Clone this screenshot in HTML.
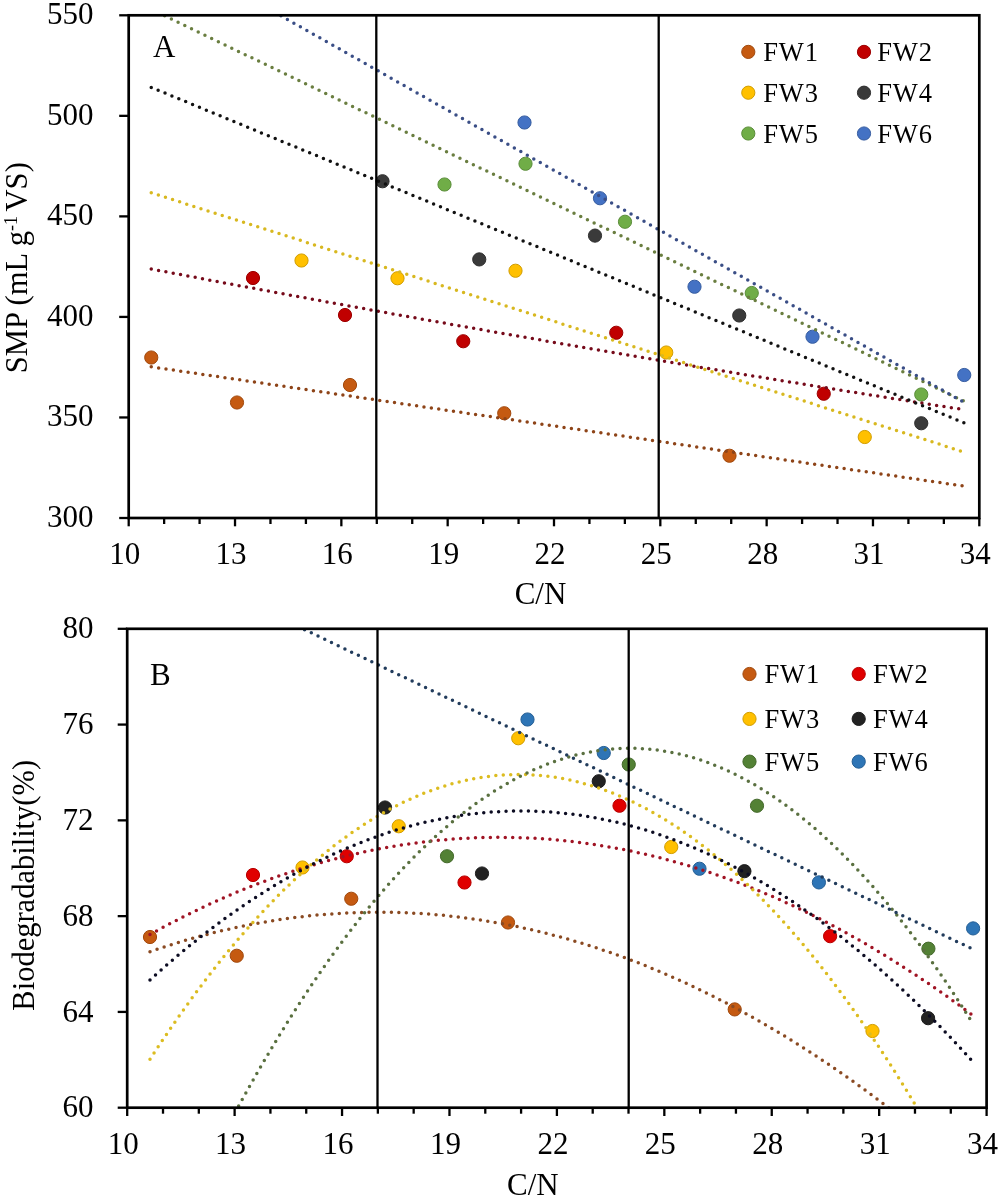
<!DOCTYPE html>
<html><head><meta charset="utf-8"><style>
html,body{margin:0;padding:0;background:#fff;}
svg{display:block;will-change:transform;}
</style></head><body>
<svg width="1000" height="1198" viewBox="0 0 1000 1198">
<rect width="1000" height="1198" fill="#fff"/>
<defs>
<clipPath id="ca"><rect x="128.7" y="15.3" width="850.5999999999999" height="502.7"/></clipPath>
<clipPath id="cb"><rect x="127.2" y="628.8" width="859.4" height="478.9000000000001"/></clipPath>
</defs>
<g clip-path="url(#ca)">
<circle cx="151.25" cy="357.5" r="6.6" fill="#C55A11" stroke="#A1490D" stroke-width="1"/>
<circle cx="237" cy="402.5" r="6.6" fill="#C55A11" stroke="#A1490D" stroke-width="1"/>
<circle cx="350" cy="385" r="6.6" fill="#C55A11" stroke="#A1490D" stroke-width="1"/>
<circle cx="504.25" cy="413.25" r="6.6" fill="#C55A11" stroke="#A1490D" stroke-width="1"/>
<circle cx="729.5" cy="455.75" r="6.6" fill="#C55A11" stroke="#A1490D" stroke-width="1"/>
<circle cx="253" cy="278" r="6.6" fill="#C00000" stroke="#9D0000" stroke-width="1"/>
<circle cx="345" cy="315" r="6.6" fill="#C00000" stroke="#9D0000" stroke-width="1"/>
<circle cx="463.25" cy="341.25" r="6.6" fill="#C00000" stroke="#9D0000" stroke-width="1"/>
<circle cx="616.25" cy="332.75" r="6.6" fill="#C00000" stroke="#9D0000" stroke-width="1"/>
<circle cx="823.75" cy="393.75" r="6.6" fill="#C00000" stroke="#9D0000" stroke-width="1"/>
<circle cx="301.5" cy="260.5" r="6.6" fill="#FFC000" stroke="#D19D00" stroke-width="1"/>
<circle cx="397.5" cy="278.25" r="6.6" fill="#FFC000" stroke="#D19D00" stroke-width="1"/>
<circle cx="515.5" cy="270.75" r="6.6" fill="#FFC000" stroke="#D19D00" stroke-width="1"/>
<circle cx="666.25" cy="352.5" r="6.6" fill="#FFC000" stroke="#D19D00" stroke-width="1"/>
<circle cx="864.75" cy="437" r="6.6" fill="#FFC000" stroke="#D19D00" stroke-width="1"/>
<circle cx="382.5" cy="181.25" r="6.6" fill="#3A3A3A" stroke="#2F2F2F" stroke-width="1"/>
<circle cx="479.25" cy="259.4" r="6.6" fill="#3A3A3A" stroke="#2F2F2F" stroke-width="1"/>
<circle cx="595" cy="235.6" r="6.6" fill="#3A3A3A" stroke="#2F2F2F" stroke-width="1"/>
<circle cx="739.25" cy="315.5" r="6.6" fill="#3A3A3A" stroke="#2F2F2F" stroke-width="1"/>
<circle cx="921.25" cy="423.25" r="6.6" fill="#3A3A3A" stroke="#2F2F2F" stroke-width="1"/>
<circle cx="444.5" cy="184.5" r="6.6" fill="#70AD47" stroke="#5B8D3A" stroke-width="1"/>
<circle cx="525.5" cy="163.75" r="6.6" fill="#70AD47" stroke="#5B8D3A" stroke-width="1"/>
<circle cx="625" cy="221.75" r="6.6" fill="#70AD47" stroke="#5B8D3A" stroke-width="1"/>
<circle cx="751.75" cy="293" r="6.6" fill="#70AD47" stroke="#5B8D3A" stroke-width="1"/>
<circle cx="921.25" cy="394.5" r="6.6" fill="#70AD47" stroke="#5B8D3A" stroke-width="1"/>
<circle cx="524.5" cy="122.5" r="6.6" fill="#4472C4" stroke="#375DA0" stroke-width="1"/>
<circle cx="600" cy="198.25" r="6.6" fill="#4472C4" stroke="#375DA0" stroke-width="1"/>
<circle cx="694.5" cy="286.75" r="6.6" fill="#4472C4" stroke="#375DA0" stroke-width="1"/>
<circle cx="812.5" cy="336.75" r="6.6" fill="#4472C4" stroke="#375DA0" stroke-width="1"/>
<circle cx="964.25" cy="375" r="6.6" fill="#4472C4" stroke="#375DA0" stroke-width="1"/>
<path d="M151.25,366.86 L165.03,368.89 L178.82,370.91 L192.60,372.93 L206.39,374.95 L220.17,376.98 L233.95,379.00 L247.74,381.02 L261.52,383.05 L275.31,385.07 L289.09,387.09 L302.87,389.11 L316.66,391.14 L330.44,393.16 L344.22,395.18 L358.01,397.21 L371.79,399.23 L385.58,401.25 L399.36,403.27 L413.14,405.30 L426.93,407.32 L440.71,409.34 L454.50,411.37 L468.28,413.39 L482.06,415.41 L495.85,417.43 L509.63,419.46 L523.42,421.48 L537.20,423.50 L550.98,425.53 L564.77,427.55 L578.55,429.57 L592.33,431.59 L606.12,433.62 L619.90,435.64 L633.69,437.66 L647.47,439.69 L661.25,441.71 L675.04,443.73 L688.82,445.75 L702.61,447.78 L716.39,449.80 L730.17,451.82 L743.96,453.85 L757.74,455.87 L771.53,457.89 L785.31,459.91 L799.09,461.94 L812.88,463.96 L826.66,465.98 L840.44,468.01 L854.23,470.03 L868.01,472.05 L881.80,474.07 L895.58,476.10 L909.36,478.12 L923.15,480.14 L936.93,482.17 L950.72,484.19 L964.50,486.21" fill="none" stroke="#8E4418" stroke-width="3.5" stroke-linecap="round" stroke-dasharray="0 7.45"/>
<path d="M151.25,269.03 L165.03,271.66 L178.82,274.28 L192.60,276.89 L206.39,279.49 L220.17,282.08 L233.95,284.67 L247.74,287.25 L261.52,289.82 L275.31,292.38 L289.09,294.93 L302.87,297.47 L316.66,300.01 L330.44,302.54 L344.22,305.05 L358.01,307.57 L371.79,310.07 L385.58,312.56 L399.36,315.05 L413.14,317.52 L426.93,319.99 L440.71,322.45 L454.50,324.90 L468.28,327.35 L482.06,329.78 L495.85,332.21 L509.63,334.63 L523.42,337.04 L537.20,339.44 L550.98,341.83 L564.77,344.22 L578.55,346.59 L592.33,348.96 L606.12,351.32 L619.90,353.67 L633.69,356.01 L647.47,358.35 L661.25,360.67 L675.04,362.99 L688.82,365.30 L702.61,367.60 L716.39,369.90 L730.17,372.18 L743.96,374.46 L757.74,376.72 L771.53,378.98 L785.31,381.23 L799.09,383.47 L812.88,385.71 L826.66,387.93 L840.44,390.15 L854.23,392.36 L868.01,394.56 L881.80,396.75 L895.58,398.94 L909.36,401.11 L923.15,403.28 L936.93,405.44 L950.72,407.59 L964.50,409.73" fill="none" stroke="#760A1A" stroke-width="3.5" stroke-linecap="round" stroke-dasharray="0 7.45"/>
<path d="M151.25,192.82 L165.03,197.21 L178.82,201.61 L192.60,206.01 L206.39,210.40 L220.17,214.80 L233.95,219.20 L247.74,223.59 L261.52,227.99 L275.31,232.39 L289.09,236.79 L302.87,241.18 L316.66,245.58 L330.44,249.98 L344.22,254.37 L358.01,258.77 L371.79,263.17 L385.58,267.56 L399.36,271.96 L413.14,276.36 L426.93,280.75 L440.71,285.15 L454.50,289.55 L468.28,293.94 L482.06,298.34 L495.85,302.74 L509.63,307.13 L523.42,311.53 L537.20,315.93 L550.98,320.32 L564.77,324.72 L578.55,329.12 L592.33,333.51 L606.12,337.91 L619.90,342.31 L633.69,346.70 L647.47,351.10 L661.25,355.50 L675.04,359.89 L688.82,364.29 L702.61,368.69 L716.39,373.08 L730.17,377.48 L743.96,381.88 L757.74,386.27 L771.53,390.67 L785.31,395.07 L799.09,399.47 L812.88,403.86 L826.66,408.26 L840.44,412.66 L854.23,417.05 L868.01,421.45 L881.80,425.85 L895.58,430.24 L909.36,434.64 L923.15,439.04 L936.93,443.43 L950.72,447.83 L964.50,452.23" fill="none" stroke="#D8B820" stroke-width="3.5" stroke-linecap="round" stroke-dasharray="0 7.45"/>
<path d="M151.25,87.41 L165.03,93.10 L178.82,98.79 L192.60,104.48 L206.39,110.17 L220.17,115.85 L233.95,121.54 L247.74,127.23 L261.52,132.92 L275.31,138.61 L289.09,144.30 L302.87,149.99 L316.66,155.68 L330.44,161.37 L344.22,167.06 L358.01,172.74 L371.79,178.43 L385.58,184.12 L399.36,189.81 L413.14,195.50 L426.93,201.19 L440.71,206.88 L454.50,212.57 L468.28,218.26 L482.06,223.94 L495.85,229.63 L509.63,235.32 L523.42,241.01 L537.20,246.70 L550.98,252.39 L564.77,258.08 L578.55,263.77 L592.33,269.46 L606.12,275.15 L619.90,280.83 L633.69,286.52 L647.47,292.21 L661.25,297.90 L675.04,303.59 L688.82,309.28 L702.61,314.97 L716.39,320.66 L730.17,326.35 L743.96,332.03 L757.74,337.72 L771.53,343.41 L785.31,349.10 L799.09,354.79 L812.88,360.48 L826.66,366.17 L840.44,371.86 L854.23,377.55 L868.01,383.24 L881.80,388.92 L895.58,394.61 L909.36,400.30 L923.15,405.99 L936.93,411.68 L950.72,417.37 L964.50,423.06" fill="none" stroke="#111111" stroke-width="3.5" stroke-linecap="round" stroke-dasharray="0 7.45"/>
<path d="M151.25,9.33 L165.03,15.97 L178.82,22.62 L192.60,29.27 L206.39,35.91 L220.17,42.56 L233.95,49.21 L247.74,55.85 L261.52,62.50 L275.31,69.15 L289.09,75.79 L302.87,82.44 L316.66,89.09 L330.44,95.73 L344.22,102.38 L358.01,109.03 L371.79,115.67 L385.58,122.32 L399.36,128.97 L413.14,135.61 L426.93,142.26 L440.71,148.91 L454.50,155.55 L468.28,162.20 L482.06,168.85 L495.85,175.49 L509.63,182.14 L523.42,188.79 L537.20,195.43 L550.98,202.08 L564.77,208.73 L578.55,215.38 L592.33,222.02 L606.12,228.67 L619.90,235.32 L633.69,241.96 L647.47,248.61 L661.25,255.26 L675.04,261.90 L688.82,268.55 L702.61,275.20 L716.39,281.84 L730.17,288.49 L743.96,295.14 L757.74,301.78 L771.53,308.43 L785.31,315.08 L799.09,321.72 L812.88,328.37 L826.66,335.02 L840.44,341.66 L854.23,348.31 L868.01,354.96 L881.80,361.60 L895.58,368.25 L909.36,374.90 L923.15,381.54 L936.93,388.19 L950.72,394.84 L964.50,401.48" fill="none" stroke="#6A7E40" stroke-width="3.5" stroke-linecap="round" stroke-dasharray="0 7.45"/>
<path d="M151.25,-57.55 L165.03,-49.74 L178.82,-41.94 L192.60,-34.14 L206.39,-26.34 L220.17,-18.54 L233.95,-10.74 L247.74,-2.94 L261.52,4.86 L275.31,12.66 L289.09,20.46 L302.87,28.26 L316.66,36.06 L330.44,43.86 L344.22,51.66 L358.01,59.46 L371.79,67.26 L385.58,75.06 L399.36,82.86 L413.14,90.66 L426.93,98.46 L440.71,106.26 L454.50,114.06 L468.28,121.86 L482.06,129.66 L495.85,137.46 L509.63,145.26 L523.42,153.06 L537.20,160.86 L550.98,168.66 L564.77,176.46 L578.55,184.26 L592.33,192.06 L606.12,199.86 L619.90,207.66 L633.69,215.46 L647.47,223.26 L661.25,231.06 L675.04,238.86 L688.82,246.66 L702.61,254.46 L716.39,262.27 L730.17,270.07 L743.96,277.87 L757.74,285.67 L771.53,293.47 L785.31,301.27 L799.09,309.07 L812.88,316.87 L826.66,324.67 L840.44,332.47 L854.23,340.27 L868.01,348.07 L881.80,355.87 L895.58,363.67 L909.36,371.47 L923.15,379.27 L936.93,387.07 L950.72,394.87 L964.50,402.67" fill="none" stroke="#3A4E86" stroke-width="3.5" stroke-linecap="round" stroke-dasharray="0 7.45"/>
</g>
<g clip-path="url(#cb)">
<circle cx="150" cy="937" r="6.6" fill="#C55A11" stroke="#A1490D" stroke-width="1"/>
<circle cx="236.75" cy="955.75" r="6.6" fill="#C55A11" stroke="#A1490D" stroke-width="1"/>
<circle cx="351.25" cy="898.75" r="6.6" fill="#C55A11" stroke="#A1490D" stroke-width="1"/>
<circle cx="508" cy="922.5" r="6.6" fill="#C55A11" stroke="#A1490D" stroke-width="1"/>
<circle cx="734.7" cy="1009.4" r="6.6" fill="#C55A11" stroke="#A1490D" stroke-width="1"/>
<circle cx="253" cy="875" r="6.6" fill="#E00000" stroke="#B70000" stroke-width="1"/>
<circle cx="346.75" cy="856.25" r="6.6" fill="#E00000" stroke="#B70000" stroke-width="1"/>
<circle cx="464.5" cy="882.5" r="6.6" fill="#E00000" stroke="#B70000" stroke-width="1"/>
<circle cx="619.5" cy="805.75" r="6.6" fill="#E00000" stroke="#B70000" stroke-width="1"/>
<circle cx="830.1" cy="936.2" r="6.6" fill="#E00000" stroke="#B70000" stroke-width="1"/>
<circle cx="302.5" cy="867.5" r="6.6" fill="#FFC000" stroke="#D19D00" stroke-width="1"/>
<circle cx="398.75" cy="826.25" r="6.6" fill="#FFC000" stroke="#D19D00" stroke-width="1"/>
<circle cx="518.25" cy="738.25" r="6.6" fill="#FFC000" stroke="#D19D00" stroke-width="1"/>
<circle cx="671.25" cy="847" r="6.6" fill="#FFC000" stroke="#D19D00" stroke-width="1"/>
<circle cx="872.5" cy="1031" r="6.6" fill="#FFC000" stroke="#D19D00" stroke-width="1"/>
<circle cx="385" cy="807.5" r="6.6" fill="#222222" stroke="#1B1B1B" stroke-width="1"/>
<circle cx="482" cy="873.5" r="6.6" fill="#222222" stroke="#1B1B1B" stroke-width="1"/>
<circle cx="598.75" cy="781.25" r="6.6" fill="#222222" stroke="#1B1B1B" stroke-width="1"/>
<circle cx="744.4" cy="871.2" r="6.6" fill="#222222" stroke="#1B1B1B" stroke-width="1"/>
<circle cx="928.1" cy="1018.2" r="6.6" fill="#222222" stroke="#1B1B1B" stroke-width="1"/>
<circle cx="447" cy="856.25" r="6.6" fill="#538135" stroke="#44692B" stroke-width="1"/>
<circle cx="628.75" cy="764.5" r="6.6" fill="#538135" stroke="#44692B" stroke-width="1"/>
<circle cx="757" cy="805.75" r="6.6" fill="#538135" stroke="#44692B" stroke-width="1"/>
<circle cx="928.4" cy="948.7" r="6.6" fill="#538135" stroke="#44692B" stroke-width="1"/>
<circle cx="527.5" cy="719.5" r="6.6" fill="#2E75B6" stroke="#255F95" stroke-width="1"/>
<circle cx="603.75" cy="753" r="6.6" fill="#2E75B6" stroke="#255F95" stroke-width="1"/>
<circle cx="699.5" cy="868.75" r="6.6" fill="#2E75B6" stroke="#255F95" stroke-width="1"/>
<circle cx="818.9" cy="882.4" r="6.6" fill="#2E75B6" stroke="#255F95" stroke-width="1"/>
<circle cx="973.1" cy="928.4" r="6.6" fill="#2E75B6" stroke="#255F95" stroke-width="1"/>
<path d="M150.00,951.64 L154.13,950.23 L158.26,948.84 L162.39,947.49 L166.52,946.15 L170.65,944.85 L174.78,943.57 L178.91,942.31 L183.05,941.08 L187.18,939.88 L191.31,938.70 L195.44,937.54 L199.57,936.42 L203.70,935.32 L207.83,934.24 L211.96,933.19 L216.09,932.16 L220.22,931.17 L224.35,930.19 L228.48,929.25 L232.61,928.32 L236.74,927.43 L240.87,926.56 L245.01,925.71 L249.14,924.89 L253.27,924.10 L257.40,923.33 L261.53,922.59 L265.66,921.87 L269.79,921.18 L273.92,920.52 L278.05,919.88 L282.18,919.26 L286.31,918.68 L290.44,918.11 L294.57,917.58 L298.70,917.07 L302.83,916.58 L306.96,916.12 L311.10,915.69 L315.23,915.28 L319.36,914.90 L323.49,914.54 L327.62,914.21 L331.75,913.90 L335.88,913.62 L340.01,913.37 L344.14,913.14 L348.27,912.94 L352.40,912.76 L356.53,912.61 L360.66,912.48 L364.79,912.38 L368.92,912.31 L373.06,912.26 L377.19,912.23 L381.32,912.24 L385.45,912.26 L389.58,912.32 L393.71,912.40 L397.84,912.50 L401.97,912.63 L406.10,912.79 L410.23,912.97 L414.36,913.18 L418.49,913.41 L422.62,913.67 L426.75,913.96 L430.88,914.27 L435.02,914.60 L439.15,914.97 L443.28,915.35 L447.41,915.77 L451.54,916.21 L455.67,916.67 L459.80,917.16 L463.93,917.68 L468.06,918.22 L472.19,918.79 L476.32,919.38 L480.45,920.00 L484.58,920.64 L488.71,921.31 L492.84,922.01 L496.97,922.73 L501.11,923.48 L505.24,924.25 L509.37,925.05 L513.50,925.87 L517.63,926.72 L521.76,927.60 L525.89,928.50 L530.02,929.42 L534.15,930.38 L538.28,931.36 L542.41,932.36 L546.54,933.39 L550.67,934.44 L554.80,935.52 L558.93,936.63 L563.07,937.76 L567.20,938.92 L571.33,940.10 L575.46,941.31 L579.59,942.55 L583.72,943.81 L587.85,945.10 L591.98,946.41 L596.11,947.74 L600.24,949.11 L604.37,950.50 L608.50,951.91 L612.63,953.35 L616.76,954.82 L620.89,956.31 L625.03,957.83 L629.16,959.37 L633.29,960.94 L637.42,962.53 L641.55,964.15 L645.68,965.80 L649.81,967.47 L653.94,969.17 L658.07,970.89 L662.20,972.64 L666.33,974.41 L670.46,976.21 L674.59,978.04 L678.72,979.89 L682.85,981.76 L686.98,983.67 L691.12,985.60 L695.25,987.55 L699.38,989.53 L703.51,991.53 L707.64,993.56 L711.77,995.62 L715.90,997.70 L720.03,999.81 L724.16,1001.94 L728.29,1004.10 L732.42,1006.29 L736.55,1008.50 L740.68,1010.73 L744.81,1013.00 L748.94,1015.28 L753.08,1017.60 L757.21,1019.94 L761.34,1022.30 L765.47,1024.69 L769.60,1027.11 L773.73,1029.55 L777.86,1032.02 L781.99,1034.51 L786.12,1037.03 L790.25,1039.57 L794.38,1042.14 L798.51,1044.74 L802.64,1047.36 L806.77,1050.01 L810.90,1052.68 L815.04,1055.38 L819.17,1058.10 L823.30,1060.85 L827.43,1063.63 L831.56,1066.43 L835.69,1069.25 L839.82,1072.11 L843.95,1074.98 L848.08,1077.89 L852.21,1080.82 L856.34,1083.77 L860.47,1086.75 L864.60,1089.76 L868.73,1092.79 L872.86,1095.85 L876.99,1098.93 L881.13,1102.04 L885.26,1105.18 L889.39,1108.34 L893.52,1111.52 L897.65,1114.74 L901.78,1117.97 L905.91,1121.24 L910.04,1124.52 L914.17,1127.84 L918.30,1131.18 L922.43,1134.55 L926.56,1137.94 L930.69,1141.35 L934.82,1144.80 L938.95,1148.27 L943.09,1151.76 L947.22,1155.28 L951.35,1158.83 L955.48,1162.40 L959.61,1165.99 L963.74,1169.62 L967.87,1173.27 L972.00,1176.94" fill="none" stroke="#8A4A22" stroke-width="3.5" stroke-linecap="round" stroke-dasharray="0 7.45"/>
<path d="M150.00,934.47 L154.13,932.19 L158.26,929.93 L162.39,927.71 L166.52,925.50 L170.65,923.33 L174.78,921.19 L178.91,919.07 L183.05,916.97 L187.18,914.91 L191.31,912.87 L195.44,910.86 L199.57,908.88 L203.70,906.92 L207.83,904.99 L211.96,903.09 L216.09,901.22 L220.22,899.37 L224.35,897.55 L228.48,895.75 L232.61,893.99 L236.74,892.25 L240.87,890.54 L245.01,888.85 L249.14,887.19 L253.27,885.56 L257.40,883.96 L261.53,882.38 L265.66,880.83 L269.79,879.31 L273.92,877.82 L278.05,876.35 L282.18,874.91 L286.31,873.49 L290.44,872.11 L294.57,870.75 L298.70,869.41 L302.83,868.11 L306.96,866.83 L311.10,865.58 L315.23,864.36 L319.36,863.16 L323.49,861.99 L327.62,860.85 L331.75,859.73 L335.88,858.64 L340.01,857.58 L344.14,856.55 L348.27,855.54 L352.40,854.56 L356.53,853.61 L360.66,852.68 L364.79,851.79 L368.92,850.91 L373.06,850.07 L377.19,849.25 L381.32,848.46 L385.45,847.70 L389.58,846.96 L393.71,846.26 L397.84,845.57 L401.97,844.92 L406.10,844.29 L410.23,843.69 L414.36,843.12 L418.49,842.57 L422.62,842.06 L426.75,841.56 L430.88,841.10 L435.02,840.66 L439.15,840.25 L443.28,839.87 L447.41,839.51 L451.54,839.18 L455.67,838.88 L459.80,838.61 L463.93,838.36 L468.06,838.14 L472.19,837.95 L476.32,837.78 L480.45,837.64 L484.58,837.53 L488.71,837.45 L492.84,837.39 L496.97,837.36 L501.11,837.35 L505.24,837.38 L509.37,837.43 L513.50,837.51 L517.63,837.61 L521.76,837.74 L525.89,837.90 L530.02,838.09 L534.15,838.30 L538.28,838.54 L542.41,838.81 L546.54,839.11 L550.67,839.43 L554.80,839.78 L558.93,840.16 L563.07,840.56 L567.20,840.99 L571.33,841.45 L575.46,841.93 L579.59,842.44 L583.72,842.98 L587.85,843.55 L591.98,844.14 L596.11,844.76 L600.24,845.41 L604.37,846.09 L608.50,846.79 L612.63,847.52 L616.76,848.27 L620.89,849.06 L625.03,849.87 L629.16,850.71 L633.29,851.57 L637.42,852.46 L641.55,853.38 L645.68,854.33 L649.81,855.30 L653.94,856.30 L658.07,857.33 L662.20,858.38 L666.33,859.46 L670.46,860.57 L674.59,861.71 L678.72,862.87 L682.85,864.06 L686.98,865.28 L691.12,866.52 L695.25,867.79 L699.38,869.09 L703.51,870.42 L707.64,871.77 L711.77,873.15 L715.90,874.56 L720.03,875.99 L724.16,877.45 L728.29,878.94 L732.42,880.46 L736.55,882.00 L740.68,883.57 L744.81,885.17 L748.94,886.79 L753.08,888.44 L757.21,890.12 L761.34,891.83 L765.47,893.56 L769.60,895.32 L773.73,897.11 L777.86,898.92 L781.99,900.76 L786.12,902.63 L790.25,904.53 L794.38,906.45 L798.51,908.40 L802.64,910.37 L806.77,912.38 L810.90,914.41 L815.04,916.47 L819.17,918.55 L823.30,920.67 L827.43,922.81 L831.56,924.97 L835.69,927.17 L839.82,929.39 L843.95,931.63 L848.08,933.91 L852.21,936.21 L856.34,938.54 L860.47,940.90 L864.60,943.28 L868.73,945.69 L872.86,948.13 L876.99,950.59 L881.13,953.09 L885.26,955.61 L889.39,958.15 L893.52,960.73 L897.65,963.33 L901.78,965.95 L905.91,968.61 L910.04,971.29 L914.17,974.00 L918.30,976.74 L922.43,979.50 L926.56,982.29 L930.69,985.11 L934.82,987.95 L938.95,990.82 L943.09,993.72 L947.22,996.65 L951.35,999.60 L955.48,1002.58 L959.61,1005.59 L963.74,1008.63 L967.87,1011.69 L972.00,1014.78" fill="none" stroke="#A01424" stroke-width="3.5" stroke-linecap="round" stroke-dasharray="0 7.45"/>
<path d="M150.00,1059.27 L154.13,1052.92 L158.26,1046.65 L162.39,1040.44 L166.52,1034.31 L170.65,1028.24 L174.78,1022.25 L178.91,1016.33 L183.05,1010.48 L187.18,1004.71 L191.31,999.00 L195.44,993.37 L199.57,987.81 L203.70,982.32 L207.83,976.90 L211.96,971.55 L216.09,966.28 L220.22,961.07 L224.35,955.94 L228.48,950.88 L232.61,945.89 L236.74,940.97 L240.87,936.13 L245.01,931.35 L249.14,926.65 L253.27,922.02 L257.40,917.46 L261.53,912.97 L265.66,908.55 L269.79,904.21 L273.92,899.94 L278.05,895.73 L282.18,891.60 L286.31,887.55 L290.44,883.56 L294.57,879.64 L298.70,875.80 L302.83,872.03 L306.96,868.33 L311.10,864.70 L315.23,861.14 L319.36,857.65 L323.49,854.24 L327.62,850.90 L331.75,847.63 L335.88,844.43 L340.01,841.30 L344.14,838.24 L348.27,835.26 L352.40,832.34 L356.53,829.50 L360.66,826.73 L364.79,824.03 L368.92,821.41 L373.06,818.85 L377.19,816.37 L381.32,813.96 L385.45,811.62 L389.58,809.35 L393.71,807.15 L397.84,805.02 L401.97,802.97 L406.10,800.99 L410.23,799.08 L414.36,797.24 L418.49,795.47 L422.62,793.77 L426.75,792.15 L430.88,790.59 L435.02,789.11 L439.15,787.70 L443.28,786.36 L447.41,785.10 L451.54,783.90 L455.67,782.78 L459.80,781.73 L463.93,780.75 L468.06,779.84 L472.19,779.00 L476.32,778.23 L480.45,777.54 L484.58,776.92 L488.71,776.37 L492.84,775.89 L496.97,775.48 L501.11,775.14 L505.24,774.88 L509.37,774.68 L513.50,774.56 L517.63,774.51 L521.76,774.53 L525.89,774.63 L530.02,774.79 L534.15,775.03 L538.28,775.34 L542.41,775.72 L546.54,776.17 L550.67,776.69 L554.80,777.28 L558.93,777.95 L563.07,778.69 L567.20,779.50 L571.33,780.38 L575.46,781.33 L579.59,782.35 L583.72,783.45 L587.85,784.61 L591.98,785.85 L596.11,787.16 L600.24,788.55 L604.37,790.00 L608.50,791.52 L612.63,793.12 L616.76,794.79 L620.89,796.53 L625.03,798.34 L629.16,800.22 L633.29,802.18 L637.42,804.20 L641.55,806.30 L645.68,808.47 L649.81,810.71 L653.94,813.02 L658.07,815.40 L662.20,817.86 L666.33,820.39 L670.46,822.99 L674.59,825.66 L678.72,828.40 L682.85,831.21 L686.98,834.10 L691.12,837.05 L695.25,840.08 L699.38,843.18 L703.51,846.35 L707.64,849.59 L711.77,852.91 L715.90,856.29 L720.03,859.75 L724.16,863.28 L728.29,866.88 L732.42,870.55 L736.55,874.30 L740.68,878.11 L744.81,882.00 L748.94,885.96 L753.08,889.99 L757.21,894.09 L761.34,898.26 L765.47,902.51 L769.60,906.83 L773.73,911.21 L777.86,915.67 L781.99,920.20 L786.12,924.81 L790.25,929.48 L794.38,934.23 L798.51,939.05 L802.64,943.93 L806.77,948.89 L810.90,953.93 L815.04,959.03 L819.17,964.21 L823.30,969.45 L827.43,974.77 L831.56,980.16 L835.69,985.62 L839.82,991.16 L843.95,996.76 L848.08,1002.44 L852.21,1008.19 L856.34,1014.01 L860.47,1019.90 L864.60,1025.86 L868.73,1031.90 L872.86,1038.00 L876.99,1044.18 L881.13,1050.43 L885.26,1056.75 L889.39,1063.14 L893.52,1069.61 L897.65,1076.14 L901.78,1082.75 L905.91,1089.43 L910.04,1096.18 L914.17,1103.00 L918.30,1109.89 L922.43,1116.86 L926.56,1123.89 L930.69,1131.00 L934.82,1138.18 L938.95,1145.43 L943.09,1152.76 L947.22,1160.15 L951.35,1167.62 L955.48,1175.15 L959.61,1182.76 L963.74,1190.44 L967.87,1198.20 L972.00,1206.02" fill="none" stroke="#DCBC20" stroke-width="3.5" stroke-linecap="round" stroke-dasharray="0 7.45"/>
<path d="M150.00,979.88 L154.13,976.14 L158.26,972.44 L162.39,968.78 L166.52,965.17 L170.65,961.60 L174.78,958.07 L178.91,954.58 L183.05,951.13 L187.18,947.73 L191.31,944.36 L195.44,941.04 L199.57,937.76 L203.70,934.52 L207.83,931.33 L211.96,928.18 L216.09,925.06 L220.22,921.99 L224.35,918.97 L228.48,915.98 L232.61,913.04 L236.74,910.13 L240.87,907.27 L245.01,904.45 L249.14,901.68 L253.27,898.94 L257.40,896.25 L261.53,893.60 L265.66,890.99 L269.79,888.42 L273.92,885.90 L278.05,883.41 L282.18,880.97 L286.31,878.57 L290.44,876.21 L294.57,873.90 L298.70,871.62 L302.83,869.39 L306.96,867.20 L311.10,865.05 L315.23,862.94 L319.36,860.88 L323.49,858.86 L327.62,856.88 L331.75,854.94 L335.88,853.04 L340.01,851.18 L344.14,849.37 L348.27,847.60 L352.40,845.87 L356.53,844.18 L360.66,842.54 L364.79,840.93 L368.92,839.37 L373.06,837.85 L377.19,836.37 L381.32,834.94 L385.45,833.54 L389.58,832.19 L393.71,830.88 L397.84,829.61 L401.97,828.38 L406.10,827.20 L410.23,826.05 L414.36,824.95 L418.49,823.89 L422.62,822.87 L426.75,821.90 L430.88,820.97 L435.02,820.07 L439.15,819.22 L443.28,818.42 L447.41,817.65 L451.54,816.92 L455.67,816.24 L459.80,815.60 L463.93,815.00 L468.06,814.45 L472.19,813.93 L476.32,813.46 L480.45,813.03 L484.58,812.64 L488.71,812.29 L492.84,811.98 L496.97,811.72 L501.11,811.50 L505.24,811.32 L509.37,811.18 L513.50,811.08 L517.63,811.03 L521.76,811.02 L525.89,811.05 L530.02,811.12 L534.15,811.23 L538.28,811.39 L542.41,811.58 L546.54,811.82 L550.67,812.10 L554.80,812.43 L558.93,812.79 L563.07,813.20 L567.20,813.65 L571.33,814.14 L575.46,814.67 L579.59,815.24 L583.72,815.86 L587.85,816.52 L591.98,817.22 L596.11,817.96 L600.24,818.74 L604.37,819.57 L608.50,820.43 L612.63,821.34 L616.76,822.29 L620.89,823.29 L625.03,824.32 L629.16,825.40 L633.29,826.52 L637.42,827.68 L641.55,828.88 L645.68,830.12 L649.81,831.41 L653.94,832.74 L658.07,834.11 L662.20,835.52 L666.33,836.97 L670.46,838.47 L674.59,840.01 L678.72,841.59 L682.85,843.21 L686.98,844.87 L691.12,846.57 L695.25,848.32 L699.38,850.11 L703.51,851.94 L707.64,853.81 L711.77,855.73 L715.90,857.68 L720.03,859.68 L724.16,861.72 L728.29,863.80 L732.42,865.93 L736.55,868.09 L740.68,870.30 L744.81,872.55 L748.94,874.84 L753.08,877.17 L757.21,879.55 L761.34,881.97 L765.47,884.43 L769.60,886.93 L773.73,889.47 L777.86,892.05 L781.99,894.68 L786.12,897.35 L790.25,900.06 L794.38,902.81 L798.51,905.60 L802.64,908.44 L806.77,911.32 L810.90,914.24 L815.04,917.20 L819.17,920.20 L823.30,923.25 L827.43,926.34 L831.56,929.46 L835.69,932.64 L839.82,935.85 L843.95,939.10 L848.08,942.40 L852.21,945.74 L856.34,949.12 L860.47,952.54 L864.60,956.00 L868.73,959.51 L872.86,963.06 L876.99,966.65 L881.13,970.28 L885.26,973.95 L889.39,977.67 L893.52,981.43 L897.65,985.23 L901.78,989.07 L905.91,992.95 L910.04,996.87 L914.17,1000.84 L918.30,1004.85 L922.43,1008.90 L926.56,1012.99 L930.69,1017.13 L934.82,1021.30 L938.95,1025.52 L943.09,1029.78 L947.22,1034.08 L951.35,1038.43 L955.48,1042.81 L959.61,1047.24 L963.74,1051.71 L967.87,1056.22 L972.00,1060.77" fill="none" stroke="#0C0C22" stroke-width="3.5" stroke-linecap="round" stroke-dasharray="0 7.45"/>
<path d="M150.00,1286.51 L154.13,1277.29 L158.26,1268.14 L162.39,1259.07 L166.52,1250.08 L170.65,1241.17 L174.78,1232.34 L178.91,1223.59 L183.05,1214.92 L187.18,1206.33 L191.31,1197.82 L195.44,1189.39 L199.57,1181.04 L203.70,1172.77 L207.83,1164.58 L211.96,1156.47 L216.09,1148.44 L220.22,1140.48 L224.35,1132.61 L228.48,1124.82 L232.61,1117.11 L236.74,1109.48 L240.87,1101.92 L245.01,1094.45 L249.14,1087.06 L253.27,1079.74 L257.40,1072.51 L261.53,1065.36 L265.66,1058.28 L269.79,1051.29 L273.92,1044.37 L278.05,1037.54 L282.18,1030.79 L286.31,1024.11 L290.44,1017.52 L294.57,1011.00 L298.70,1004.57 L302.83,998.21 L306.96,991.93 L311.10,985.74 L315.23,979.62 L319.36,973.59 L323.49,967.63 L327.62,961.75 L331.75,955.96 L335.88,950.24 L340.01,944.60 L344.14,939.04 L348.27,933.57 L352.40,928.17 L356.53,922.85 L360.66,917.61 L364.79,912.45 L368.92,907.37 L373.06,902.38 L377.19,897.46 L381.32,892.62 L385.45,887.86 L389.58,883.18 L393.71,878.58 L397.84,874.06 L401.97,869.62 L406.10,865.26 L410.23,860.98 L414.36,856.78 L418.49,852.65 L422.62,848.61 L426.75,844.65 L430.88,840.77 L435.02,836.97 L439.15,833.25 L443.28,829.60 L447.41,826.04 L451.54,822.56 L455.67,819.16 L459.80,815.83 L463.93,812.59 L468.06,809.43 L472.19,806.34 L476.32,803.34 L480.45,800.41 L484.58,797.57 L488.71,794.81 L492.84,792.12 L496.97,789.52 L501.11,786.99 L505.24,784.55 L509.37,782.18 L513.50,779.89 L517.63,777.69 L521.76,775.56 L525.89,773.52 L530.02,771.55 L534.15,769.66 L538.28,767.86 L542.41,766.13 L546.54,764.48 L550.67,762.92 L554.80,761.43 L558.93,760.02 L563.07,758.69 L567.20,757.44 L571.33,756.28 L575.46,755.19 L579.59,754.18 L583.72,753.25 L587.85,752.40 L591.98,751.63 L596.11,750.94 L600.24,750.33 L604.37,749.80 L608.50,749.35 L612.63,748.98 L616.76,748.69 L620.89,748.48 L625.03,748.35 L629.16,748.30 L633.29,748.33 L637.42,748.43 L641.55,748.62 L645.68,748.89 L649.81,749.24 L653.94,749.67 L658.07,750.17 L662.20,750.76 L666.33,751.43 L670.46,752.17 L674.59,753.00 L678.72,753.91 L682.85,754.89 L686.98,755.96 L691.12,757.11 L695.25,758.33 L699.38,759.64 L703.51,761.02 L707.64,762.49 L711.77,764.03 L715.90,765.66 L720.03,767.36 L724.16,769.15 L728.29,771.01 L732.42,772.95 L736.55,774.98 L740.68,777.08 L744.81,779.26 L748.94,781.53 L753.08,783.87 L757.21,786.29 L761.34,788.80 L765.47,791.38 L769.60,794.04 L773.73,796.78 L777.86,799.60 L781.99,802.51 L786.12,805.49 L790.25,808.55 L794.38,811.69 L798.51,814.91 L802.64,818.21 L806.77,821.59 L810.90,825.05 L815.04,828.59 L819.17,832.21 L823.30,835.91 L827.43,839.69 L831.56,843.55 L835.69,847.49 L839.82,851.51 L843.95,855.61 L848.08,859.78 L852.21,864.04 L856.34,868.38 L860.47,872.80 L864.60,877.30 L868.73,881.87 L872.86,886.53 L876.99,891.27 L881.13,896.08 L885.26,900.98 L889.39,905.96 L893.52,911.01 L897.65,916.15 L901.78,921.36 L905.91,926.66 L910.04,932.04 L914.17,937.49 L918.30,943.03 L922.43,948.64 L926.56,954.34 L930.69,960.11 L934.82,965.96 L938.95,971.90 L943.09,977.91 L947.22,984.01 L951.35,990.18 L955.48,996.43 L959.61,1002.77 L963.74,1009.18 L967.87,1015.67 L972.00,1022.24" fill="none" stroke="#5A7040" stroke-width="3.5" stroke-linecap="round" stroke-dasharray="0 7.45"/>
<path d="M150.00,555.75 L154.13,557.72 L158.26,559.70 L162.39,561.67 L166.52,563.65 L170.65,565.62 L174.78,567.60 L178.91,569.57 L183.05,571.55 L187.18,573.52 L191.31,575.50 L195.44,577.47 L199.57,579.45 L203.70,581.42 L207.83,583.40 L211.96,585.37 L216.09,587.35 L220.22,589.32 L224.35,591.30 L228.48,593.27 L232.61,595.25 L236.74,597.22 L240.87,599.20 L245.01,601.17 L249.14,603.15 L253.27,605.12 L257.40,607.10 L261.53,609.07 L265.66,611.05 L269.79,613.02 L273.92,615.00 L278.05,616.97 L282.18,618.95 L286.31,620.92 L290.44,622.90 L294.57,624.87 L298.70,626.85 L302.83,628.82 L306.96,630.80 L311.10,632.77 L315.23,634.75 L319.36,636.72 L323.49,638.70 L327.62,640.67 L331.75,642.65 L335.88,644.62 L340.01,646.60 L344.14,648.57 L348.27,650.55 L352.40,652.52 L356.53,654.50 L360.66,656.47 L364.79,658.45 L368.92,660.42 L373.06,662.40 L377.19,664.37 L381.32,666.35 L385.45,668.32 L389.58,670.30 L393.71,672.27 L397.84,674.25 L401.97,676.22 L406.10,678.20 L410.23,680.17 L414.36,682.15 L418.49,684.12 L422.62,686.10 L426.75,688.07 L430.88,690.05 L435.02,692.02 L439.15,694.00 L443.28,695.97 L447.41,697.95 L451.54,699.92 L455.67,701.90 L459.80,703.87 L463.93,705.85 L468.06,707.82 L472.19,709.80 L476.32,711.77 L480.45,713.75 L484.58,715.72 L488.71,717.70 L492.84,719.67 L496.97,721.65 L501.11,723.62 L505.24,725.60 L509.37,727.57 L513.50,729.55 L517.63,731.52 L521.76,733.50 L525.89,735.47 L530.02,737.44 L534.15,739.42 L538.28,741.39 L542.41,743.37 L546.54,745.34 L550.67,747.32 L554.80,749.29 L558.93,751.27 L563.07,753.24 L567.20,755.22 L571.33,757.19 L575.46,759.17 L579.59,761.14 L583.72,763.12 L587.85,765.09 L591.98,767.07 L596.11,769.04 L600.24,771.02 L604.37,772.99 L608.50,774.97 L612.63,776.94 L616.76,778.92 L620.89,780.89 L625.03,782.87 L629.16,784.84 L633.29,786.82 L637.42,788.79 L641.55,790.77 L645.68,792.74 L649.81,794.72 L653.94,796.69 L658.07,798.67 L662.20,800.64 L666.33,802.62 L670.46,804.59 L674.59,806.57 L678.72,808.54 L682.85,810.52 L686.98,812.49 L691.12,814.47 L695.25,816.44 L699.38,818.42 L703.51,820.39 L707.64,822.37 L711.77,824.34 L715.90,826.32 L720.03,828.29 L724.16,830.27 L728.29,832.24 L732.42,834.22 L736.55,836.19 L740.68,838.17 L744.81,840.14 L748.94,842.12 L753.08,844.09 L757.21,846.07 L761.34,848.04 L765.47,850.02 L769.60,851.99 L773.73,853.97 L777.86,855.94 L781.99,857.92 L786.12,859.89 L790.25,861.87 L794.38,863.84 L798.51,865.82 L802.64,867.79 L806.77,869.77 L810.90,871.74 L815.04,873.72 L819.17,875.69 L823.30,877.67 L827.43,879.64 L831.56,881.62 L835.69,883.59 L839.82,885.57 L843.95,887.54 L848.08,889.52 L852.21,891.49 L856.34,893.47 L860.47,895.44 L864.60,897.42 L868.73,899.39 L872.86,901.37 L876.99,903.34 L881.13,905.32 L885.26,907.29 L889.39,909.27 L893.52,911.24 L897.65,913.22 L901.78,915.19 L905.91,917.17 L910.04,919.14 L914.17,921.12 L918.30,923.09 L922.43,925.07 L926.56,927.04 L930.69,929.02 L934.82,930.99 L938.95,932.97 L943.09,934.94 L947.22,936.92 L951.35,938.89 L955.48,940.87 L959.61,942.84 L963.74,944.82 L967.87,946.79 L972.00,948.77" fill="none" stroke="#223C5C" stroke-width="3.5" stroke-linecap="round" stroke-dasharray="0 7.45"/>
</g>
<rect x="128.70" y="15.30" width="850.60" height="502.70" fill="none" stroke="#000" stroke-width="2.7"/>
<line x1="119.20" y1="518.00" x2="128.70" y2="518.00" stroke="#000" stroke-width="2.3"/>
<line x1="119.20" y1="417.46" x2="128.70" y2="417.46" stroke="#000" stroke-width="2.3"/>
<line x1="119.20" y1="316.92" x2="128.70" y2="316.92" stroke="#000" stroke-width="2.3"/>
<line x1="119.20" y1="216.38" x2="128.70" y2="216.38" stroke="#000" stroke-width="2.3"/>
<line x1="119.20" y1="115.84" x2="128.70" y2="115.84" stroke="#000" stroke-width="2.3"/>
<line x1="119.20" y1="15.30" x2="128.70" y2="15.30" stroke="#000" stroke-width="2.3"/>
<line x1="128.70" y1="518.00" x2="128.70" y2="526.30" stroke="#000" stroke-width="2.3"/>
<line x1="164.14" y1="518.00" x2="164.14" y2="524.00" stroke="#000" stroke-width="2.3"/>
<line x1="199.58" y1="518.00" x2="199.58" y2="524.00" stroke="#000" stroke-width="2.3"/>
<line x1="235.02" y1="518.00" x2="235.02" y2="526.30" stroke="#000" stroke-width="2.3"/>
<line x1="270.47" y1="518.00" x2="270.47" y2="524.00" stroke="#000" stroke-width="2.3"/>
<line x1="305.91" y1="518.00" x2="305.91" y2="524.00" stroke="#000" stroke-width="2.3"/>
<line x1="341.35" y1="518.00" x2="341.35" y2="526.30" stroke="#000" stroke-width="2.3"/>
<line x1="376.79" y1="518.00" x2="376.79" y2="524.00" stroke="#000" stroke-width="2.3"/>
<line x1="412.23" y1="518.00" x2="412.23" y2="524.00" stroke="#000" stroke-width="2.3"/>
<line x1="447.67" y1="518.00" x2="447.67" y2="526.30" stroke="#000" stroke-width="2.3"/>
<line x1="483.12" y1="518.00" x2="483.12" y2="524.00" stroke="#000" stroke-width="2.3"/>
<line x1="518.56" y1="518.00" x2="518.56" y2="524.00" stroke="#000" stroke-width="2.3"/>
<line x1="554.00" y1="518.00" x2="554.00" y2="526.30" stroke="#000" stroke-width="2.3"/>
<line x1="589.44" y1="518.00" x2="589.44" y2="524.00" stroke="#000" stroke-width="2.3"/>
<line x1="624.88" y1="518.00" x2="624.88" y2="524.00" stroke="#000" stroke-width="2.3"/>
<line x1="660.32" y1="518.00" x2="660.32" y2="526.30" stroke="#000" stroke-width="2.3"/>
<line x1="695.77" y1="518.00" x2="695.77" y2="524.00" stroke="#000" stroke-width="2.3"/>
<line x1="731.21" y1="518.00" x2="731.21" y2="524.00" stroke="#000" stroke-width="2.3"/>
<line x1="766.65" y1="518.00" x2="766.65" y2="526.30" stroke="#000" stroke-width="2.3"/>
<line x1="802.09" y1="518.00" x2="802.09" y2="524.00" stroke="#000" stroke-width="2.3"/>
<line x1="837.53" y1="518.00" x2="837.53" y2="524.00" stroke="#000" stroke-width="2.3"/>
<line x1="872.97" y1="518.00" x2="872.97" y2="526.30" stroke="#000" stroke-width="2.3"/>
<line x1="908.42" y1="518.00" x2="908.42" y2="524.00" stroke="#000" stroke-width="2.3"/>
<line x1="943.86" y1="518.00" x2="943.86" y2="524.00" stroke="#000" stroke-width="2.3"/>
<line x1="979.30" y1="518.00" x2="979.30" y2="526.30" stroke="#000" stroke-width="2.3"/>
<line x1="376.30" y1="15.30" x2="376.30" y2="518.00" stroke="#000" stroke-width="2.3"/>
<line x1="658.70" y1="15.30" x2="658.70" y2="518.00" stroke="#000" stroke-width="2.3"/>
<rect x="127.20" y="628.80" width="859.40" height="478.90" fill="none" stroke="#000" stroke-width="2.7"/>
<line x1="117.70" y1="1107.70" x2="127.20" y2="1107.70" stroke="#000" stroke-width="2.3"/>
<line x1="117.70" y1="1011.92" x2="127.20" y2="1011.92" stroke="#000" stroke-width="2.3"/>
<line x1="117.70" y1="916.14" x2="127.20" y2="916.14" stroke="#000" stroke-width="2.3"/>
<line x1="117.70" y1="820.36" x2="127.20" y2="820.36" stroke="#000" stroke-width="2.3"/>
<line x1="117.70" y1="724.58" x2="127.20" y2="724.58" stroke="#000" stroke-width="2.3"/>
<line x1="117.70" y1="628.80" x2="127.20" y2="628.80" stroke="#000" stroke-width="2.3"/>
<line x1="127.20" y1="1107.70" x2="127.20" y2="1116.00" stroke="#000" stroke-width="2.3"/>
<line x1="163.01" y1="1107.70" x2="163.01" y2="1113.70" stroke="#000" stroke-width="2.3"/>
<line x1="198.82" y1="1107.70" x2="198.82" y2="1113.70" stroke="#000" stroke-width="2.3"/>
<line x1="234.62" y1="1107.70" x2="234.62" y2="1116.00" stroke="#000" stroke-width="2.3"/>
<line x1="270.43" y1="1107.70" x2="270.43" y2="1113.70" stroke="#000" stroke-width="2.3"/>
<line x1="306.24" y1="1107.70" x2="306.24" y2="1113.70" stroke="#000" stroke-width="2.3"/>
<line x1="342.05" y1="1107.70" x2="342.05" y2="1116.00" stroke="#000" stroke-width="2.3"/>
<line x1="377.86" y1="1107.70" x2="377.86" y2="1113.70" stroke="#000" stroke-width="2.3"/>
<line x1="413.67" y1="1107.70" x2="413.67" y2="1113.70" stroke="#000" stroke-width="2.3"/>
<line x1="449.47" y1="1107.70" x2="449.47" y2="1116.00" stroke="#000" stroke-width="2.3"/>
<line x1="485.28" y1="1107.70" x2="485.28" y2="1113.70" stroke="#000" stroke-width="2.3"/>
<line x1="521.09" y1="1107.70" x2="521.09" y2="1113.70" stroke="#000" stroke-width="2.3"/>
<line x1="556.90" y1="1107.70" x2="556.90" y2="1116.00" stroke="#000" stroke-width="2.3"/>
<line x1="592.71" y1="1107.70" x2="592.71" y2="1113.70" stroke="#000" stroke-width="2.3"/>
<line x1="628.52" y1="1107.70" x2="628.52" y2="1113.70" stroke="#000" stroke-width="2.3"/>
<line x1="664.33" y1="1107.70" x2="664.33" y2="1116.00" stroke="#000" stroke-width="2.3"/>
<line x1="700.13" y1="1107.70" x2="700.13" y2="1113.70" stroke="#000" stroke-width="2.3"/>
<line x1="735.94" y1="1107.70" x2="735.94" y2="1113.70" stroke="#000" stroke-width="2.3"/>
<line x1="771.75" y1="1107.70" x2="771.75" y2="1116.00" stroke="#000" stroke-width="2.3"/>
<line x1="807.56" y1="1107.70" x2="807.56" y2="1113.70" stroke="#000" stroke-width="2.3"/>
<line x1="843.37" y1="1107.70" x2="843.37" y2="1113.70" stroke="#000" stroke-width="2.3"/>
<line x1="879.17" y1="1107.70" x2="879.17" y2="1116.00" stroke="#000" stroke-width="2.3"/>
<line x1="914.98" y1="1107.70" x2="914.98" y2="1113.70" stroke="#000" stroke-width="2.3"/>
<line x1="950.79" y1="1107.70" x2="950.79" y2="1113.70" stroke="#000" stroke-width="2.3"/>
<line x1="986.60" y1="1107.70" x2="986.60" y2="1116.00" stroke="#000" stroke-width="2.3"/>
<line x1="377.50" y1="628.80" x2="377.50" y2="1107.70" stroke="#000" stroke-width="2.3"/>
<line x1="628.70" y1="628.80" x2="628.70" y2="1107.70" stroke="#000" stroke-width="2.3"/>
<text x="93.60" y="527.00" font-size="31" text-anchor="end" style="font-family:'Liberation Serif',serif" >300</text>
<text x="93.60" y="426.46" font-size="31" text-anchor="end" style="font-family:'Liberation Serif',serif" >350</text>
<text x="93.60" y="325.92" font-size="31" text-anchor="end" style="font-family:'Liberation Serif',serif" >400</text>
<text x="93.60" y="225.38" font-size="31" text-anchor="end" style="font-family:'Liberation Serif',serif" >450</text>
<text x="93.60" y="124.84" font-size="31" text-anchor="end" style="font-family:'Liberation Serif',serif" >500</text>
<text x="93.60" y="24.30" font-size="31" text-anchor="end" style="font-family:'Liberation Serif',serif" >550</text>
<text x="93.40" y="1117.30" font-size="31" text-anchor="end" style="font-family:'Liberation Serif',serif" >60</text>
<text x="93.40" y="1021.52" font-size="31" text-anchor="end" style="font-family:'Liberation Serif',serif" >64</text>
<text x="93.40" y="925.74" font-size="31" text-anchor="end" style="font-family:'Liberation Serif',serif" >68</text>
<text x="93.40" y="829.96" font-size="31" text-anchor="end" style="font-family:'Liberation Serif',serif" >72</text>
<text x="93.40" y="734.18" font-size="31" text-anchor="end" style="font-family:'Liberation Serif',serif" >76</text>
<text x="93.40" y="638.40" font-size="31" text-anchor="end" style="font-family:'Liberation Serif',serif" >80</text>
<text x="124.70" y="564.30" font-size="31" text-anchor="middle" style="font-family:'Liberation Serif',serif" >10</text>
<text x="123.20" y="1154.20" font-size="31" text-anchor="middle" style="font-family:'Liberation Serif',serif" >10</text>
<text x="231.02" y="564.30" font-size="31" text-anchor="middle" style="font-family:'Liberation Serif',serif" >13</text>
<text x="230.62" y="1154.20" font-size="31" text-anchor="middle" style="font-family:'Liberation Serif',serif" >13</text>
<text x="337.35" y="564.30" font-size="31" text-anchor="middle" style="font-family:'Liberation Serif',serif" >16</text>
<text x="338.05" y="1154.20" font-size="31" text-anchor="middle" style="font-family:'Liberation Serif',serif" >16</text>
<text x="443.67" y="564.30" font-size="31" text-anchor="middle" style="font-family:'Liberation Serif',serif" >19</text>
<text x="445.47" y="1154.20" font-size="31" text-anchor="middle" style="font-family:'Liberation Serif',serif" >19</text>
<text x="550.00" y="564.30" font-size="31" text-anchor="middle" style="font-family:'Liberation Serif',serif" >22</text>
<text x="552.90" y="1154.20" font-size="31" text-anchor="middle" style="font-family:'Liberation Serif',serif" >22</text>
<text x="656.32" y="564.30" font-size="31" text-anchor="middle" style="font-family:'Liberation Serif',serif" >25</text>
<text x="660.33" y="1154.20" font-size="31" text-anchor="middle" style="font-family:'Liberation Serif',serif" >25</text>
<text x="762.65" y="564.30" font-size="31" text-anchor="middle" style="font-family:'Liberation Serif',serif" >28</text>
<text x="767.75" y="1154.20" font-size="31" text-anchor="middle" style="font-family:'Liberation Serif',serif" >28</text>
<text x="868.97" y="564.30" font-size="31" text-anchor="middle" style="font-family:'Liberation Serif',serif" >31</text>
<text x="875.17" y="1154.20" font-size="31" text-anchor="middle" style="font-family:'Liberation Serif',serif" >31</text>
<text x="975.30" y="564.30" font-size="31" text-anchor="middle" style="font-family:'Liberation Serif',serif" >34</text>
<text x="982.60" y="1154.20" font-size="31" text-anchor="middle" style="font-family:'Liberation Serif',serif" >34</text>
<text x="540.50" y="604.00" font-size="31" text-anchor="middle" style="font-family:'Liberation Serif',serif" >C/N</text>
<text x="532.80" y="1195.20" font-size="31" text-anchor="middle" style="font-family:'Liberation Serif',serif" >C/N</text>
<text x="153.00" y="57.00" font-size="31" text-anchor="start" style="font-family:'Liberation Serif',serif" >A</text>
<text x="150.00" y="685.00" font-size="31" text-anchor="start" style="font-family:'Liberation Serif',serif" >B</text>
<text transform="translate(27,267.7) rotate(-90)" font-size="30.6" text-anchor="middle" style="font-family:'Liberation Serif',serif">SMP (mL g<tspan dy="-10.5" font-size="18">-1&#160;</tspan><tspan dy="10.5">VS)</tspan></text>
<text transform="translate(33.8,885.3) rotate(-90)" font-size="30.5" text-anchor="middle" style="font-family:'Liberation Serif',serif">Biodegradability(%)</text>
<circle cx="748.3" cy="51.9" r="6.6" fill="#C55A11" stroke="#A1490D" stroke-width="1"/>
<text x="763.20" y="61.20" font-size="26.5" text-anchor="start" style="font-family:'Liberation Serif',serif" letter-spacing="0.9">FW1</text>
<circle cx="864" cy="51.9" r="6.6" fill="#C00000" stroke="#9D0000" stroke-width="1"/>
<text x="877.20" y="61.20" font-size="26.5" text-anchor="start" style="font-family:'Liberation Serif',serif" letter-spacing="0.9">FW2</text>
<circle cx="748.3" cy="92.7" r="6.6" fill="#FFC000" stroke="#D19D00" stroke-width="1"/>
<text x="763.20" y="102.00" font-size="26.5" text-anchor="start" style="font-family:'Liberation Serif',serif" letter-spacing="0.9">FW3</text>
<circle cx="864" cy="92.7" r="6.6" fill="#3A3A3A" stroke="#2F2F2F" stroke-width="1"/>
<text x="877.20" y="102.00" font-size="26.5" text-anchor="start" style="font-family:'Liberation Serif',serif" letter-spacing="0.9">FW4</text>
<circle cx="748.3" cy="133.5" r="6.6" fill="#70AD47" stroke="#5B8D3A" stroke-width="1"/>
<text x="763.20" y="142.80" font-size="26.5" text-anchor="start" style="font-family:'Liberation Serif',serif" letter-spacing="0.9">FW5</text>
<circle cx="864" cy="133.5" r="6.6" fill="#4472C4" stroke="#375DA0" stroke-width="1"/>
<text x="877.20" y="142.80" font-size="26.5" text-anchor="start" style="font-family:'Liberation Serif',serif" letter-spacing="0.9">FW6</text>
<circle cx="749.5" cy="674" r="6.6" fill="#C55A11" stroke="#A1490D" stroke-width="1"/>
<text x="764.40" y="683.30" font-size="26.5" text-anchor="start" style="font-family:'Liberation Serif',serif" letter-spacing="0.9">FW1</text>
<circle cx="858.7" cy="674" r="6.6" fill="#E00000" stroke="#B70000" stroke-width="1"/>
<text x="872.90" y="683.30" font-size="26.5" text-anchor="start" style="font-family:'Liberation Serif',serif" letter-spacing="0.9">FW2</text>
<circle cx="749.5" cy="718.9" r="6.6" fill="#FFC000" stroke="#D19D00" stroke-width="1"/>
<text x="764.40" y="728.20" font-size="26.5" text-anchor="start" style="font-family:'Liberation Serif',serif" letter-spacing="0.9">FW3</text>
<circle cx="858.7" cy="718.9" r="6.6" fill="#222222" stroke="#1B1B1B" stroke-width="1"/>
<text x="872.90" y="728.20" font-size="26.5" text-anchor="start" style="font-family:'Liberation Serif',serif" letter-spacing="0.9">FW4</text>
<circle cx="749.5" cy="761.6" r="6.6" fill="#538135" stroke="#44692B" stroke-width="1"/>
<text x="764.40" y="770.90" font-size="26.5" text-anchor="start" style="font-family:'Liberation Serif',serif" letter-spacing="0.9">FW5</text>
<circle cx="858.7" cy="761.6" r="6.6" fill="#2E75B6" stroke="#255F95" stroke-width="1"/>
<text x="872.90" y="770.90" font-size="26.5" text-anchor="start" style="font-family:'Liberation Serif',serif" letter-spacing="0.9">FW6</text>
</svg>
</body></html>
